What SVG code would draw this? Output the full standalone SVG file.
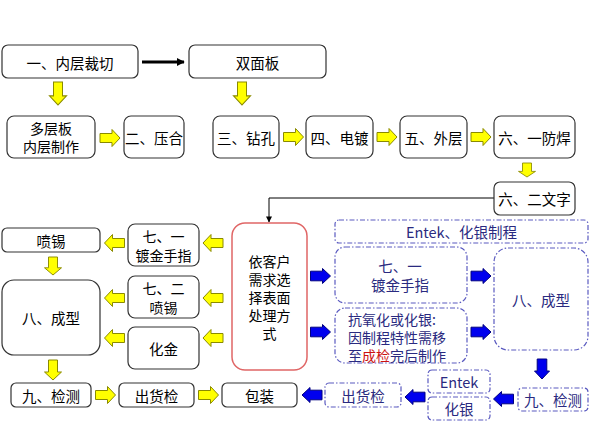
<svg xmlns="http://www.w3.org/2000/svg" xmlns:xlink="http://www.w3.org/1999/xlink" width="592" height="438" viewBox="0 0 592 438">
<style>
.b{fill:#fff;stroke:#333;stroke-width:1.2}
.r{fill:#fff;stroke:#e06666;stroke-width:1.5}
.d{fill:#fff;stroke:#5a5ac0;stroke-width:1.2;stroke-dasharray:5 2 1.5 2}
text{font-family:"Noto Sans CJK SC","Noto Sans",sans-serif;font-size:14.5px;fill:#000;text-anchor:middle;dominant-baseline:central}
.m{font-size:14px}
.tb{fill:#2a2a80}
.tl{text-anchor:start}
.red{fill:#cc1111}
.ya{fill:#ffff00;stroke:#8a8a00;stroke-width:1}
.ba{fill:#0000ee;stroke:#000080;stroke-width:1}
.ln{fill:none;stroke:#000}
</style>
<defs>
<path id="ay" d="M-10,-4.5 H2 V-8.5 L10,0 L2,8.5 V4.5 H-10 Z"/>
<path id="ab" d="M-10,-4.8 H2 V-7.5 L10,0 L2,7.5 V4.8 H-10 Z"/>
<marker id="mk" viewBox="0 0 10 10" refX="9" refY="5" markerWidth="8" markerHeight="6" markerUnits="userSpaceOnUse" orient="auto"><path d="M0,0 L10,5 L0,10 Z" fill="#000"/></marker>
<marker id="mk2" viewBox="0 0 10 10" refX="9" refY="5" markerWidth="3" markerHeight="2.6" orient="auto"><path d="M0,0 L10,5 L0,10 Z" fill="#000"/></marker>
</defs>
<rect width="592" height="438" fill="#fff"/>

<g id="connectors">
<line class="ln" x1="142" y1="62" x2="184" y2="62" stroke-width="3" marker-end="url(#mk2)"/>
<path class="ln" d="M494,198 H269 V222" stroke-width="1" marker-end="url(#mk)"/>
<use href="#ay" class="ya" transform="translate(58,93.5) rotate(90) scale(1.15,1)"/>
<use href="#ay" class="ya" transform="translate(242,93.5) rotate(90) scale(1.15,1)"/>
<use href="#ay" class="ya" transform="translate(110,138)"/>
<use href="#ay" class="ya" transform="translate(293.5,137)"/>
<use href="#ay" class="ya" transform="translate(387,137)"/>
<use href="#ay" class="ya" transform="translate(481,137)"/>
<use href="#ay" class="ya" transform="translate(527,170) rotate(90) scale(0.7,1)"/>
<use href="#ay" class="ya" transform="translate(213,243) rotate(180)"/>
<use href="#ay" class="ya" transform="translate(213,298) rotate(180)"/>
<use href="#ay" class="ya" transform="translate(213,338) rotate(180)"/>
<use href="#ay" class="ya" transform="translate(114.5,243) rotate(180)"/>
<use href="#ay" class="ya" transform="translate(114.5,298) rotate(180)"/>
<use href="#ay" class="ya" transform="translate(114.5,338) rotate(180)"/>
<use href="#ay" class="ya" transform="translate(53,266) rotate(90) scale(0.9,1)"/>
<use href="#ay" class="ya" transform="translate(53,370) rotate(90)"/>
<use href="#ay" class="ya" transform="translate(105.5,395)"/>
<use href="#ay" class="ya" transform="translate(208.5,395)"/>
<use href="#ab" class="ba" transform="translate(320.5,276)"/>
<use href="#ab" class="ba" transform="translate(320.5,332)"/>
<use href="#ab" class="ba" transform="translate(481,276)"/>
<use href="#ab" class="ba" transform="translate(481,332)"/>
<use href="#ab" class="ba" transform="translate(542,369) rotate(90)"/>
<use href="#ab" class="ba" transform="translate(503.5,399) rotate(180)"/>
<use href="#ab" class="ba" transform="translate(415,397) rotate(180)"/>
<use href="#ab" class="ba" transform="translate(312,395) rotate(180)"/>
</g>

<g id="n1"><rect class="b" x="2" y="45" width="136" height="33" rx="6"/><text x="70" y="62">一、内层裁切</text></g>
<g id="n2"><rect class="b" x="189" y="45" width="137" height="33" rx="6"/><text x="257.5" y="62">双面板</text></g>
<g id="n3"><rect class="b" x="7" y="116" width="88" height="42" rx="7"/><text class="m" x="51" y="128">多层板<tspan x="51" dy="18">内层制作</tspan></text></g>
<g id="n4"><rect class="b" x="124" y="116" width="60" height="42" rx="7"/><text x="154" y="137">二、压合</text></g>
<g id="n5"><rect class="b" x="213" y="116" width="66" height="42" rx="7"/><text x="246" y="137">三、钻孔</text></g>
<g id="n6"><rect class="b" x="306" y="116" width="67" height="42" rx="7"/><text x="339.5" y="137">四、电镀</text></g>
<g id="n7"><rect class="b" x="400" y="116" width="67" height="42" rx="7"/><text x="433.5" y="137">五、外层</text></g>
<g id="n8"><rect class="b" x="494" y="116" width="81" height="42" rx="7"/><text x="534.5" y="137">六、一防焊</text></g>
<g id="n9"><rect class="b" x="494" y="182" width="81" height="33" rx="6"/><text x="534.5" y="198.5">六、二文字</text></g>
<g id="n10"><rect class="r" x="232" y="223" width="75" height="147" rx="13"/>
<text class="m" x="269.5" y="261">依客户<tspan x="269.5" dy="18">需求选</tspan><tspan x="269.5" dy="18">择表面</tspan><tspan x="269.5" dy="18">处理方</tspan><tspan x="269.5" dy="18">式</tspan></text></g>
<g id="n11"><rect class="b" x="128" y="224" width="71" height="42" rx="7"/><text class="m" x="163.5" y="236">七、一<tspan x="163.5" dy="18.5">镀金手指</tspan></text></g>
<g id="n12"><rect class="b" x="128" y="276" width="71" height="42" rx="7"/><text class="m" x="163.5" y="288">七、二<tspan x="163.5" dy="18.5">喷锡</tspan></text></g>
<g id="n13"><rect class="b" x="128" y="327" width="71" height="42" rx="7"/><text x="163.5" y="348">化金</text></g>
<g id="n14"><rect class="b" x="2" y="228" width="98" height="24" rx="5"/><text x="51" y="240">喷锡</text></g>
<g id="n15"><rect class="b" x="2" y="280" width="98" height="75" rx="12"/><text x="51" y="317.5">八、成型</text></g>
<g id="n16"><rect class="b" x="11" y="383" width="80" height="24" rx="5"/><text x="51" y="395">九、检测</text></g>
<g id="n17"><rect class="b" x="119" y="383" width="75" height="24" rx="5"/><text x="156.5" y="395">出货检</text></g>
<g id="n18"><rect class="b" x="222" y="383" width="75" height="24" rx="5"/><text x="259.5" y="395">包装</text></g>

<g id="n19"><rect class="d" x="335" y="220" width="253" height="23" rx="4"/><text class="tb" x="461.5" y="231.5">Entek、化银制程</text></g>
<g id="n20"><rect class="d" x="335" y="247" width="132" height="56" rx="10"/><text class="tb" x="400" y="265">七、一<tspan x="400" dy="19">镀金手指</tspan></text></g>
<g id="n21"><rect class="d" x="335" y="308" width="132" height="55" rx="10"/>
<text class="tb tl m" x="348" y="318.5">抗氧化或化银:<tspan x="348" dy="18">因制程特性需移</tspan><tspan x="348" dy="18">至</tspan><tspan class="red">成检</tspan><tspan>完后制作</tspan></text></g>
<g id="n22"><rect class="d" x="494" y="248" width="94" height="102" rx="14"/><text class="tb" x="541" y="299">八、成型</text></g>
<g id="n23"><rect class="d" x="518" y="388" width="70" height="23" rx="4"/><text class="tb" x="553" y="399.5">九、检测</text></g>
<g id="n24"><rect class="d" x="428" y="370" width="62" height="23" rx="4"/><text class="tb" x="459" y="381.5">Entek</text></g>
<g id="n25"><rect class="d" x="428" y="397" width="62" height="23" rx="4"/><text class="tb" x="459" y="408.5">化银</text></g>
<g id="n26"><rect class="d" x="325" y="383" width="76" height="24" rx="4"/><text class="tb" x="363" y="395">出货检</text></g>
</svg>
